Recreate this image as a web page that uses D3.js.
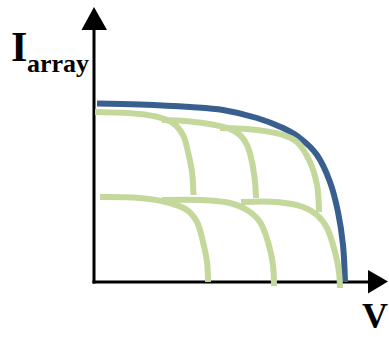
<!DOCTYPE html>
<html>
<head>
<meta charset="utf-8">
<script src="https://cdn.jsdelivr.net/npm/d3@7/dist/d3.min.js"></script>
<style>
  html, body { margin: 0; padding: 0; background: #fff; }
  svg { display: block; }
</style>
</head>
<body>
<svg id="chart" width="389" height="337"></svg>
<script>
// Array I-V characteristic (blue) and the individual sub-string curves (green).
// Points are [voltage, current].
const arrayCurve = [
  [0.3, 8.93], [4.6, 8.88], [9.6, 8.75], [12.9, 8.6], [16.3, 8.2], [18.9, 7.7],
  [20.6, 7.2], [22.3, 6.35], [23.6, 5.0], [24.4, 3.5], [24.9, 1.85], [25.1, 0]
];

// upper row of sub-curves
const upper1 = [[0.1, 8.5], [4.6, 8.4], [6.6, 8.22], [7.9, 7.95], [8.9, 7.35], [9.4, 6.5], [9.8, 5.5], [9.95, 4.35]];
const upper2 = [[6.8, 8.1], [9.6, 8.03], [12.1, 7.85], [13.6, 7.65], [14.6, 7.35], [15.3, 6.85], [15.8, 6.0], [16.1, 5.0], [16.2, 4.2]];
const upper3 = [[12.6, 7.7], [16.3, 7.6], [18.9, 7.35], [20.3, 7.0], [21.6, 6.0], [22.3, 4.85], [22.5, 3.5]];

// lower row of sub-curves
const lower1 = [[0.6, 4.25], [4.6, 4.2], [7.6, 3.95], [9.3, 3.6], [10.3, 3.0], [10.9, 2.0], [11.3, 1.0], [11.4, 0]];
const lower2 = [[6.8, 4.1], [11.6, 4.08], [13.6, 3.95], [15.3, 3.6], [16.6, 3.0], [17.4, 2.0], [17.9, 0.85], [18.0, -0.2]];
const lower3 = [[14.7, 4.0], [18.3, 4.0], [20.9, 3.75], [22.3, 3.35], [23.3, 2.7], [24.1, 1.5], [24.5, 0.5], [24.6, -0.3]];

const subCurves = [upper1, upper2, upper3, lower1, lower2, lower3];

const axisLabelY = "I";
const axisLabelYSub = "array";
const axisLabelX = "V";

const svg = d3.select("#chart");
const x = d3.scaleLinear().domain([0, 25]).range([94, 344]);
const y = d3.scaleLinear().domain([0, 9]).range([282, 102]);

const line = d3.line()
  .x(d => x(d[0]))
  .y(d => y(d[1]))
  .curve(d3.curveCatmullRom.alpha(0.5));

// axes with arrowheads
const ox = x(0), oy = y(0);
const axisG = svg.append("g");
axisG.append("line")
  .attr("x1", ox).attr("y1", oy + 1.5)
  .attr("x2", ox).attr("y2", 24)
  .attr("stroke", "#000").attr("stroke-width", 3);
axisG.append("path")
  .attr("d", `M${ox},7 L${ox - 12.5},30 L${ox + 13},30 Z`)
  .attr("fill", "#000");
axisG.append("line")
  .attr("x1", ox - 1.5).attr("y1", oy)
  .attr("x2", 372).attr("y2", oy)
  .attr("stroke", "#000").attr("stroke-width", 3);
axisG.append("path")
  .attr("d", `M388,${oy - 0.5} L368,${oy - 12} L368,${oy + 11.5} Z`)
  .attr("fill", "#000");

// full array curve
svg.append("path")
  .datum(arrayCurve)
  .attr("d", line)
  .attr("fill", "none")
  .attr("stroke", "#395f8e")
  .attr("stroke-width", 6);

// sub-string curves
svg.append("g")
  .selectAll("path")
  .data(subCurves)
  .join("path")
  .attr("d", line)
  .attr("fill", "none")
  .attr("stroke", "#c4d89c")
  .attr("stroke-width", 6);

// axis labels
const yl = svg.append("text")
  .attr("x", 11).attr("y", 61)
  .attr("font-family", "'Liberation Serif', 'Times New Roman', serif")
  .attr("font-weight", "bold")
  .attr("font-size", 42)
  .attr("fill", "#000");
yl.append("tspan").text(axisLabelY);
yl.append("tspan")
  .attr("x", 27).attr("y", 72)
  .attr("font-size", 26)
  .text(axisLabelYSub);

svg.append("text")
  .attr("x", 362).attr("y", 328)
  .attr("font-family", "'Liberation Serif', 'Times New Roman', serif")
  .attr("font-weight", "bold")
  .attr("font-size", 36)
  .attr("fill", "#000")
  .text(axisLabelX);
</script>
</body>
</html>
